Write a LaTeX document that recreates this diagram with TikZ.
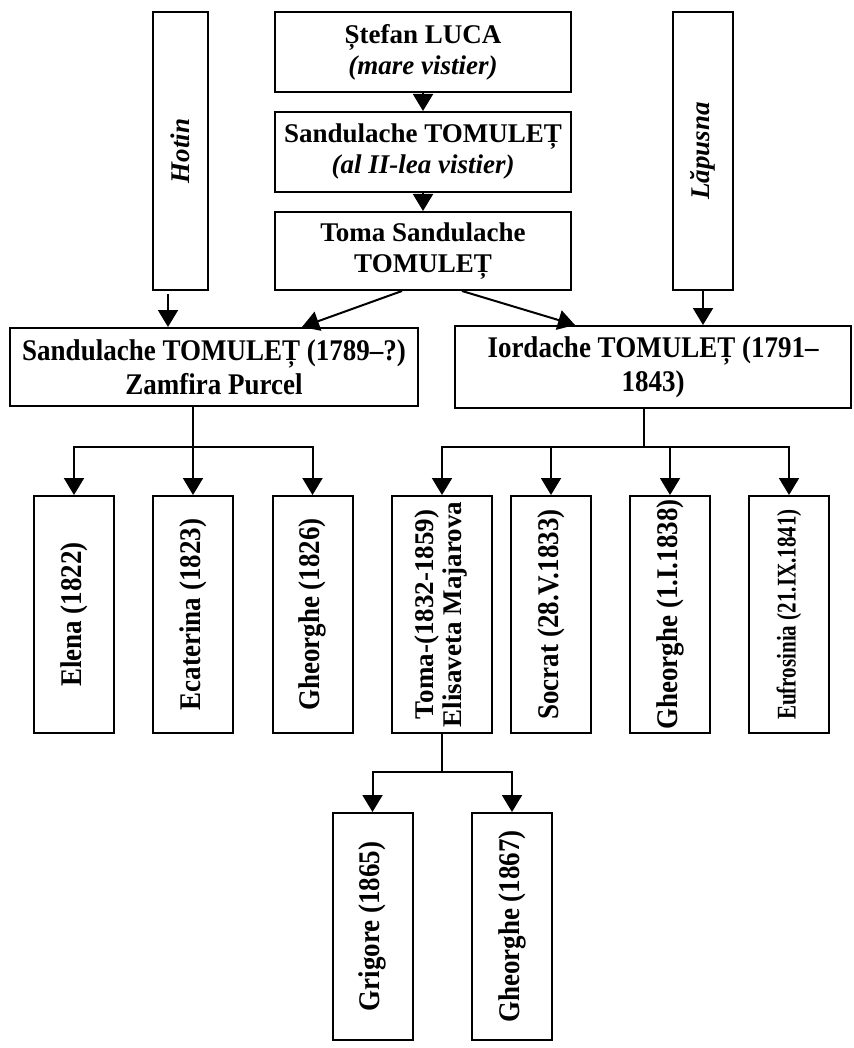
\documentclass[tikz,border=0pt]{standalone}
\usepackage{fontspec}
\setmainfont{Liberation Serif}
\newfontfamily\narrowserif[FakeStretch=0.9]{Liberation Serif}
\newfontfamily\tightserif[FakeStretch=0.78]{Liberation Serif}
\usetikzlibrary{calc,arrows.meta}

\tikzset{
	box/.style={draw,line width=2pt,inner sep=0pt,align=center,font=\fontsize{27}{31}\selectfont\bfseries},
	wide/.style={box,font=\narrowserif\fontsize{30}{34}\selectfont\bfseries},
	kid/.style={wide,minimum width=80pt,minimum height=237pt},
	arr/.style={line width=2pt,-{Triangle[width=20pt,length=17pt]}},
	link/.style={line width=1.5pt}
}

\begin{document}
\begin{tikzpicture}[x=1pt,y=-1pt]
			\useasboundingbox (0,0) rectangle (853,1048);
			\node[box,minimum width=296pt,minimum height=80pt] (luca) at (423,52) {Ștefan LUCA\\\textit{(mare vistier)}};
			\node[box,minimum width=296pt,minimum height=80pt] (sand) at (423,152) {Sandulache TOMULEȚ\\\textit{(al II-lea vistier)}};
			\node[box,minimum width=296pt,minimum height=78pt] (toma) at (423,251) {Toma Sandulache\\TOMULEȚ};
			\node[box,minimum width=55pt,minimum height=278pt] (hotin) at (180.5,151) {\rotatebox{90}{\textit{Hotin}}};
			\node[box,minimum width=60pt,minimum height=278pt] (lapusna) at (703,151) {\rotatebox{90}{\textit{Lăpusna}}};
			\node[wide,minimum width=408pt,minimum height=78pt] (sandjr) at (214,367) {Sandulache TOMULEȚ (1789–?)\\Zamfira Purcel};
			\node[wide,minimum width=396pt,minimum height=82pt] (iordache) at (653,367) {Iordache TOMULEȚ (1791–\\1843)};
			\foreach \n/\x/\t in {elena/74/Elena (1822),ecaterina/193/Ecaterina (1823),gheorghea/312.5/Gheorghe (1826),socrat/551/Socrat (28.V.1833),gheorgheb/670/Gheorghe (1.I.1838)}{
				\node[kid] (\n) at (\x,614.5) {\rotatebox{90}{\t}};
			}
			\node[kid,minimum width=100pt] (tomajr) at (442,614.5) {\rotatebox{90}{\rmfamily\fontsize{27}{28}\selectfont\bfseries\begin{tabular}{@{}c@{}}Toma-(1832-1859)\\Elisaveta Majarova\end{tabular}}};
			\node[kid] (eufrosinia) at (789,614.5) {\rotatebox{90}{\tightserif\fontsize{27}{28}\selectfont\bfseries Eufrosinia (21.IX.1841)}};
			\node[kid,minimum height=227pt] (grigore) at (372.5,926.5) {\rotatebox{90}{Grigore (1865)}};
			\node[kid,minimum height=227pt] (gheorghec) at (512,926.5) {\rotatebox{90}{Gheorghe (1867)}};
			\draw[arr] (luca) -- (sand);
			\draw[arr] (sand) -- (toma);
			\coordinate (hotinfoot) at (168,294);
			\draw[arr] (hotinfoot) -- (hotinfoot |- sandjr.north);
			\draw[arr] (lapusna) -- (lapusna |- iordache.north);
			\draw[arr] ($(toma.south)+(-21,0)$) -- ($(sandjr.north)+(88,0)$);
			\draw[arr] ($(toma.south)+(39,0)$) -- ($(iordache.north)+(-78,0)$);
			\coordinate (lfork) at (193,447);
			\draw[arr] (sandjr.south -| lfork) -- (ecaterina.north);
			\foreach \n in {elena,gheorghea}{
				\draw[arr] (lfork) -| (\n.north);
			}
			\coordinate (rfork) at (644,447);
			\draw[link] (iordache.south -| rfork) -- (rfork);
			\foreach \n in {tomajr,socrat,gheorgheb,eufrosinia}{
				\draw[arr] (rfork) -| (\n.north);
			}
			\coordinate (bfork) at (442,772);
			\draw[link] (tomajr.south) -- (bfork);
			\foreach \n in {grigore,gheorghec}{
				\draw[arr] (bfork) -| (\n.north);
			}
		\end{tikzpicture}
\end{document}
